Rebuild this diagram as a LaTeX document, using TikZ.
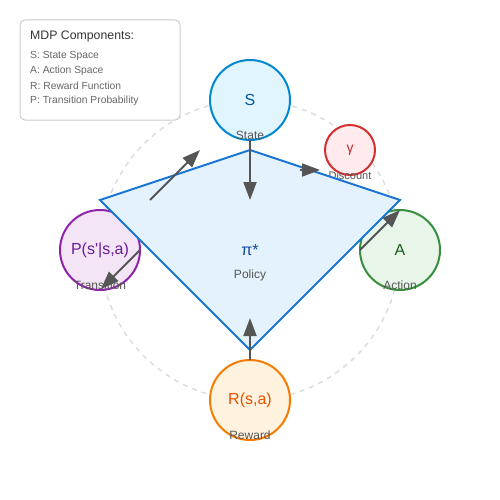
\documentclass[tikz,border=0pt]{standalone}
\usepackage{fontspec}
\setmainfont{Liberation Sans}
\usetikzlibrary{arrows.meta}
\definecolor{sfill}{HTML}{E1F5FE}\definecolor{sline}{HTML}{0288D1}\definecolor{stext}{HTML}{01579B}
\definecolor{afill}{HTML}{E8F5E9}\definecolor{aline}{HTML}{388E3C}\definecolor{atext}{HTML}{1B5E20}
\definecolor{rfill}{HTML}{FFF3E0}\definecolor{rline}{HTML}{F57C00}\definecolor{rtext}{HTML}{E65100}
\definecolor{pfill}{HTML}{F3E5F5}\definecolor{pline}{HTML}{8E24AA}\definecolor{ptext}{HTML}{6A1B9A}
\definecolor{gfill}{HTML}{FFEBEE}\definecolor{gline}{HTML}{D32F2F}\definecolor{gtext}{HTML}{C62828}
\definecolor{dfill}{HTML}{E3F2FD}\definecolor{dline}{HTML}{1976D2}\definecolor{dtext}{HTML}{0D47A1}
\definecolor{arr}{HTML}{555555}\definecolor{lbl}{HTML}{555555}
\definecolor{legline}{HTML}{CCCCCC}\definecolor{legtitle}{HTML}{333333}\definecolor{legitem}{HTML}{666666}
\definecolor{orbit}{HTML}{DDDDDD}
\tikzset{
  comp/.style={circle,line width=2pt,minimum size=80pt,inner sep=0pt,font=\fontsize{16}{18}\selectfont},
  small/.style={circle,line width=2pt,minimum size=50pt,inner sep=0pt,font=\fontsize{14}{16}\selectfont},
  sub/.style={text=lbl,font=\fontsize{12}{14}\selectfont,inner sep=0pt},
  flow/.style={draw=arr,line width=2pt,-{Triangle[length=18pt,width=13pt]}},
  legitemst/.style={anchor=west,text=legitem,font=\fontsize{10.3}{12}\selectfont,inner sep=0pt}
}
\begin{document}
\begin{tikzpicture}[x=1pt,y=-1pt]
\useasboundingbox (0,0) rectangle (500,500);
\fill[white] (0,0) rectangle (500,500);
% orbit
\draw[orbit,line width=1.5pt,dash pattern=on 5pt off 5pt] (250,250) circle[radius=150];
% legend
\draw[legline,fill=white,line width=1pt,rounded corners=5pt] (20,20) rectangle (180,120);
\node[anchor=west,text=legtitle,font=\fontsize{12.3}{14}\selectfont,inner sep=0pt] (legt) at (30,36) {MDP Components:};
\node[legitemst] (l1) at (30,56) {S: State Space};
\node[legitemst] (l2) at (30,71) {A: Action Space};
\node[legitemst] (l3) at (30,86) {R: Reward Function};
\node[legitemst] (l4) at (30,101) {P: Transition Probability};
% components
\node[comp,draw=sline,fill=sfill,text=stext] (S) at (250,100) {S};
\node[sub] (Sl) at (250,135) {State};
\node[comp,draw=aline,fill=afill,text=atext] (A) at (400,250) {A};
\node[sub] (Al) at (400,285) {Action};
\node[comp,draw=rline,fill=rfill,text=rtext] (R) at (250,400) {R(s,a)};
\node[sub] (Rl) at (250,435) {Reward};
\node[comp,draw=pline,fill=pfill,text=ptext] (P) at (100,250) {P(s\textquotesingle|s,a)};
\node[sub] (Pl) at (100,285) {Transition};
\node[small,draw=gline,fill=gfill,text=gtext] (G) at (350,150) {γ};
\node[sub,font=\fontsize{11}{13}\selectfont] (Gl) at (350,176) {Discount};
% policy diamond
\draw[dline,fill=dfill,line width=2pt] (250,150) -- (400,200) -- (250,350) -- (100,200) -- cycle;
\node[text=dtext,font=\fontsize{16}{18}\selectfont,inner sep=0pt] (pi) at (250,250) {π*};
\node[sub] (pil) at (250,275) {Policy};
% arrows
\coordinate (s1) at (250,140); \coordinate (s2) at (250,200);
\coordinate (r1) at (250,360); \coordinate (r2) at (250,318);
\coordinate (a1) at (360,250); \coordinate (a2) at (400,210);
\coordinate (p1) at (140,250); \coordinate (p2) at (101,289);
\coordinate (t1) at (150,200); \coordinate (t2) at (200,150);
\coordinate (g1) at (300,170); \coordinate (g2) at (320,170);
\draw[flow] (s1) -- (s2);
\draw[flow] (r1) -- (r2);
\draw[flow] (a1) -- (a2);
\draw[flow] (p1) -- (p2);
\draw[flow] (t1) -- (t2);
\draw[flow] (g1) -- (g2);
\end{tikzpicture}
\end{document}
